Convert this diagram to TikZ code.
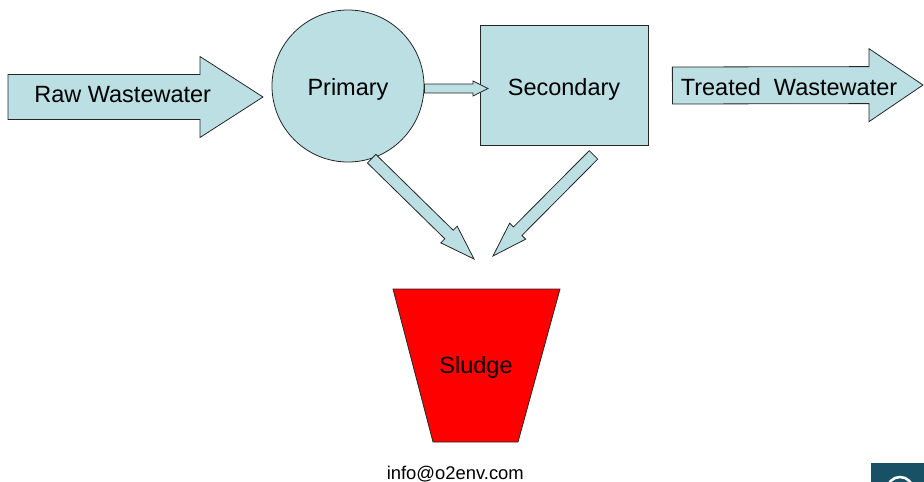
\documentclass[tikz,border=0pt]{standalone}
\usepackage{fontspec}
\setmainfont{Liberation Sans}
\usetikzlibrary{positioning, calc}
\definecolor{Water}{RGB}{187, 223, 227}
\definecolor{Sludge}{RGB}{255, 0, 0}
\definecolor{LogoBg}{RGB}{24, 80, 102}

% tail, tip, half shaft, half head, head length
\newcommand{\blockarrow}[5]{%
  \path ($(#2)!#5!(#1)$) coordinate (headbase);
  \draw[flow] ($(#1)!#3!90:(#2)$) -- ($(headbase)!#3!90:(#2)$) -- ($(headbase)!#4!90:(#2)$) -- (#2)
    -- ($(headbase)!#4!-90:(#2)$) -- ($(headbase)!#3!-90:(#2)$) -- ($(#1)!#3!-90:(#2)$) -- cycle;
}

\begin{document}
\begin{tikzpicture}[x=1pt, y=-1pt, line width=0.8pt,
    flow/.style={draw=black!85, fill=Water},
    tank/.style={draw=black!85, fill=Water},
    txt/.style={font=\fontsize{23.5}{28}\selectfont, text height=19pt, text depth=0pt}]
  \useasboundingbox (0,0) rectangle (924,482);

  % Primary
  \node[tank, circle, minimum size=152pt, txt] (primary) at (348,86) {Primary};

  % Secondary
  \node[tank, minimum width=168pt, minimum height=120pt, txt] (secondary) at (564,85.5) {Secondary};

  % Raw Wastewater
  \coordinate (rawtail) at (8,97);
  \coordinate (rawtip) at (263,97);
  \blockarrow{rawtail}{rawtip}{22.5pt}{40.5pt}{63pt}
  \node[txt] (raw) at (122.7,93.2) {Raw Wastewater};

  % Treated Wastewater
  \coordinate (outtail) at ($(secondary.east)+(24,0)$);
  \coordinate (outtip) at (923,85);
  \blockarrow{outtail}{outtip}{18.5pt}{36.5pt}{54pt}
  \node[txt] (treated) at (789,85.8) {Treated\ \ Wastewater};

  % Primary -> Secondary
  \coordinate (p2stip) at (488,88.5);
  \coordinate (p2stail) at (primary.east |- p2stip);
  \blockarrow{p2stail}{p2stip}{4.5pt}{7.5pt}{15pt}

  % down to sludge
  \coordinate (p2ktail) at (primary.-72);
  \coordinate (p2ktip) at (474,259);
  \blockarrow{p2ktail}{p2ktip}{6pt}{11.7pt}{35pt}
  \coordinate (s2ktail) at ($(secondary.south)+(29.5,9)$);
  \coordinate (s2ktip) at (493,256);
  \blockarrow{s2ktail}{s2ktip}{6pt}{11.3pt}{35pt}

  % Sludge
  \draw[draw=black!85, fill=Sludge] (393,289) -- (560,289) -- (518,442) -- (433,442) -- cycle;
  \node[txt] (sludge) at (476,364.2) {Sludge};

  % e-mail
  \node[font=\fontsize{18.4}{22}\selectfont, anchor=base] (email) at (455.3,479.5) {info@o2env.com};

  % logo corner
  \begin{scope}
    \clip (871,463) rectangle (924,482);
    \fill[LogoBg] (871,463) rectangle (924,482);
    \draw[white, line width=2.5pt] (900,490) circle (13);
  \end{scope}
\end{tikzpicture}
\end{document}
